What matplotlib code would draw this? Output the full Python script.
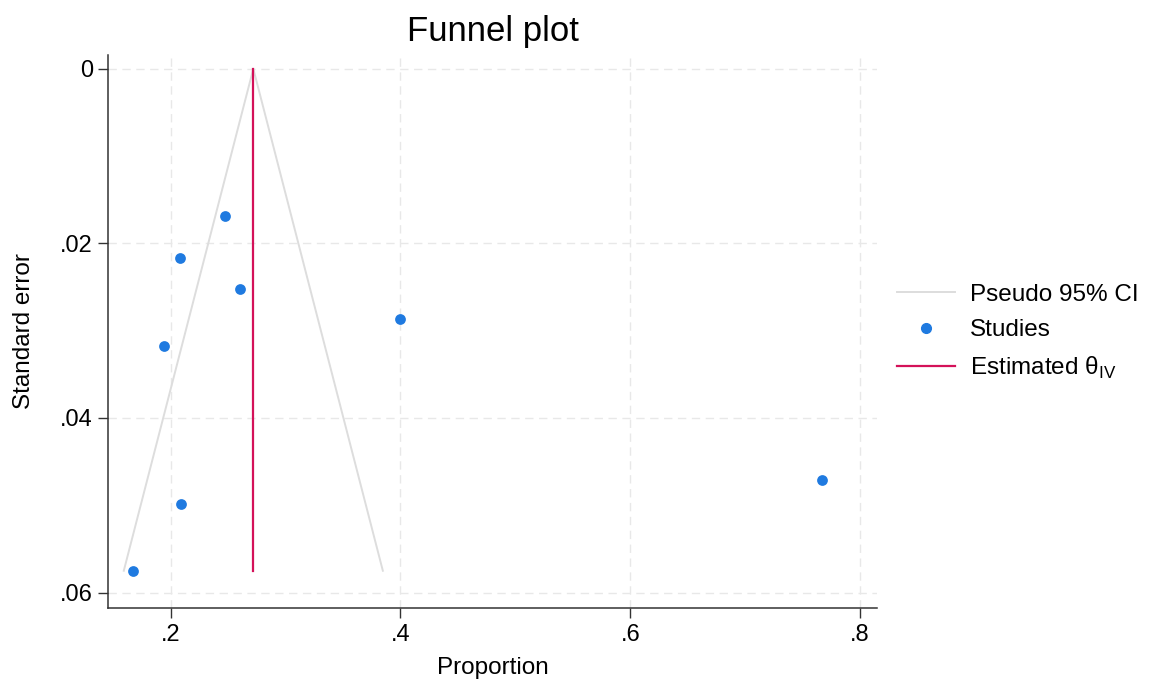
import matplotlib
matplotlib.use("Agg")
import matplotlib.pyplot as plt
from matplotlib.ticker import FuncFormatter
from matplotlib.lines import Line2D
import numpy as np

plt.rcParams["font.family"] = ["Liberation Sans", "DejaVu Sans"]
plt.rcParams["mathtext.fontset"] = "custom"
plt.rcParams["mathtext.rm"] = "Liberation Sans"

# study proportions and their standard errors
proportion = [0.247, 0.208, 0.260, 0.400, 0.194, 0.767, 0.209, 0.167]
std_error  = [0.0169, 0.0217, 0.0252, 0.0287, 0.0318, 0.0471, 0.0498, 0.0575]
theta_iv   = 0.272          # inverse-variance pooled estimate

xticks = [0.2, 0.4, 0.6, 0.8]
yticks = [0, 0.02, 0.04, 0.06]

blue = "#1f7ae0"
red = "#d41159"
ci_gray = "#dddddd"
grid_gray = "#e8e8e8"

fig = plt.figure(figsize=(11.68, 6.85), dpi=100)
ax = fig.add_axes([0.0925, 0.112, 0.6584, 0.808])

# pseudo 95% CI funnel, from se = 0 down to the largest se
se_max = max(std_error)
ax.plot([theta_iv - 1.96 * se_max, theta_iv, theta_iv + 1.96 * se_max],
        [se_max, 0, se_max], color=ci_gray, lw=1.4, zorder=2)
ax.plot([theta_iv, theta_iv], [0, se_max], color=red, lw=1.6, zorder=3)
ax.scatter(proportion, std_error, s=60, color=blue, zorder=4, linewidths=0)

ax.set_xlim(0.1456, 0.8147)
ax.set_ylim(0.0618, -0.0016)
ax.set_xticks(xticks)
ax.set_yticks(yticks)
fmt = FuncFormatter(lambda v, p: "0" if abs(v) < 1e-12 else f"{v:g}".lstrip("0"))
ax.xaxis.set_major_formatter(fmt)
ax.yaxis.set_major_formatter(fmt)
ax.tick_params(labelsize=17, length=7, width=1, color="#333333", pad=4)
ax.grid(True, color=grid_gray, ls=(0, (6, 4)), lw=1)
ax.set_axisbelow(True)
for s in ["top", "right"]:
    ax.spines[s].set_visible(False)
for s in ["left", "bottom"]:
    ax.spines[s].set_color("#333333")
    ax.spines[s].set_linewidth(1.1)

ax.set_xlabel("Proportion", fontsize=17.5, labelpad=8)
ax.set_ylabel("Standard error", fontsize=17.5, labelpad=18)
ax.set_title("Funnel plot", fontsize=25, pad=10)

handles = [
    Line2D([], [], color=ci_gray, lw=1.4),
    Line2D([], [], color=blue, marker="o", ls="none", markersize=7),
    Line2D([], [], color=red, lw=1.6),
]
labels = ["Pseudo 95% CI", "Studies", r"Estimated θ$_{\mathrm{IV}}$"]
fig.legend(handles, labels, loc="center left", bbox_to_anchor=(0.768, 0.515),
           frameon=False, fontsize=17.5, handlelength=2.4, handletextpad=0.6,
           labelspacing=0.55, borderpad=0, borderaxespad=0)

fig.savefig("out.png", dpi=100)
